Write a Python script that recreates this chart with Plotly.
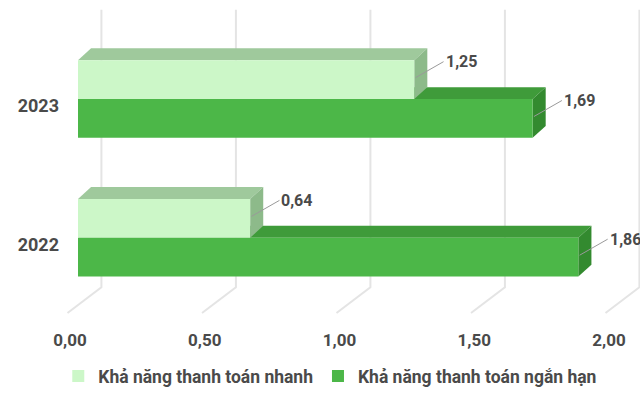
import plotly.graph_objects as go

# --- data ---------------------------------------------------------------
years = ["2022", "2023"]
quick_ratio = [0.64, 1.25]      # Khả năng thanh toán nhanh
current_ratio = [1.86, 1.69]    # Khả năng thanh toán ngắn hạn
x_ticks = [0.0, 0.5, 1.0, 1.5, 2.0]

series_names = ["Khả năng thanh toán nhanh", "Khả năng thanh toán ngắn hạn"]

# --- styling --------------------------------------------------------------
FONT = "Roboto"
TEXT = "#4a4a4a"
LIGHT = dict(front="#ccf7c8", top="#9fc99c", side="#8dba8a")
GREEN = dict(front="#4cb748", top="#3f9b3a", side="#338a2f")

BAR_W = 0.28          # bar thickness in category units
DX, DY = 0.0486, 0.0857   # extrusion depth (x units, y units)
WALL_DX = 0.087       # back wall offset
FLOOR_DX, FLOOR_TOP, FLOOR_BOT = -0.126, -0.307, -0.493

pos = list(range(len(years)))

fig = go.Figure()

# front faces
fig.add_trace(go.Bar(
    name=series_names[1], y=pos, x=current_ratio, orientation="h",
    width=BAR_W, offset=-BAR_W + 0.05, marker=dict(color=GREEN["front"], line=dict(width=0)),
    legendrank=2, hoverinfo="x"))
fig.add_trace(go.Bar(
    name=series_names[0], y=pos, x=quick_ratio, orientation="h",
    width=BAR_W, offset=0.05, marker=dict(color=LIGHT["front"], line=dict(width=0)),
    legendrank=1, hoverinfo="x"))
# invisible anchor so the floor-edge value axis is drawn
fig.add_trace(go.Scatter(x=x_ticks, y=[0] * len(x_ticks), xaxis="x2", mode="markers",
                         marker=dict(opacity=0), showlegend=False, hoverinfo="skip"))

shapes = []

# back wall gridlines with their floor return
for t in x_ticks:
    xb = t + WALL_DX
    shapes.append(dict(type="path", xref="x", yref="y", layer="below",
                       path=f"M{xb},1.693 L{xb},{FLOOR_TOP} L{xb + FLOOR_DX},{FLOOR_BOT}",
                       line=dict(color="#e4e4e4", width=2)))


def box_faces(v, y0, y1, col):
    top = f"M0,{y1} L{v},{y1} L{v + DX},{y1 + DY} L{DX},{y1 + DY} Z"
    side = f"M{v},{y0} L{v},{y1} L{v + DX},{y1 + DY} L{v + DX},{y0 + DY} Z"
    return [
        dict(type="path", xref="x", yref="y", layer="below", path=top,
             fillcolor=col["top"], line=dict(width=0)),
        dict(type="path", xref="x", yref="y", layer="below", path=side,
             fillcolor=col["side"], line=dict(width=0)),
    ]


annotations = []
for p, vq, vc in zip(pos, quick_ratio, current_ratio):
    g0, g1 = p - BAR_W + 0.05, p + 0.05
    l0, l1 = p + 0.05, p + 0.05 + BAR_W
    shapes += box_faces(vc, g0, g1, GREEN)
    shapes += box_faces(vq, l0, l1, LIGHT)
    for v, y0, y1 in ((vq, l0, l1), (vc, g0, g1)):
        annotations.append(dict(
            x=v + DX * 0.1, y=y1 - 0.45 * (y1 - y0),
            xref="x", yref="y", text=f"<b>{v:.2f}</b>".replace(".", ","),
            showarrow=True, arrowhead=0, arrowwidth=1, arrowcolor="#9a9a9a",
            ax=28, ay=-16, xanchor="left", yanchor="middle",
            font=dict(family=FONT, size=16, color=TEXT)))

tick_font = dict(family=FONT, size=17, color=TEXT, weight="bold")

fig.update_layout(
    width=640, height=394,
    margin=dict(l=60, r=0, t=0, b=72),
    paper_bgcolor="white", plot_bgcolor="white",
    barmode="overlay", separators=",.",
    shapes=shapes, annotations=annotations,
    showlegend=True,
    legend=dict(orientation="h", x=0.466, xanchor="center", y=-0.18, yanchor="middle",
                bgcolor="rgba(0,0,0,0)",
                font=dict(family=FONT, size=17.5, color=TEXT, weight="bold"),
                itemwidth=30, tracegroupgap=0),
    xaxis=dict(range=[-0.0669, 2.0892], showticklabels=False,
               showgrid=False, zeroline=False, showline=False, ticks=""),
    xaxis2=dict(range=[-0.0371, 2.115], overlaying="x", side="bottom",
                tickvals=x_ticks, tickformat=".2f", ticklabelstandoff=9,
                showgrid=False, zeroline=False, showline=False, ticks="",
                tickfont=tick_font),
    yaxis=dict(range=[-0.536, 1.764], tickvals=pos, ticktext=years,
               showgrid=False, zeroline=False, showline=False, ticks="",
               tickfont=dict(family=FONT, size=18, color=TEXT, weight="bold")),
)

fig.write_html("out.html")
